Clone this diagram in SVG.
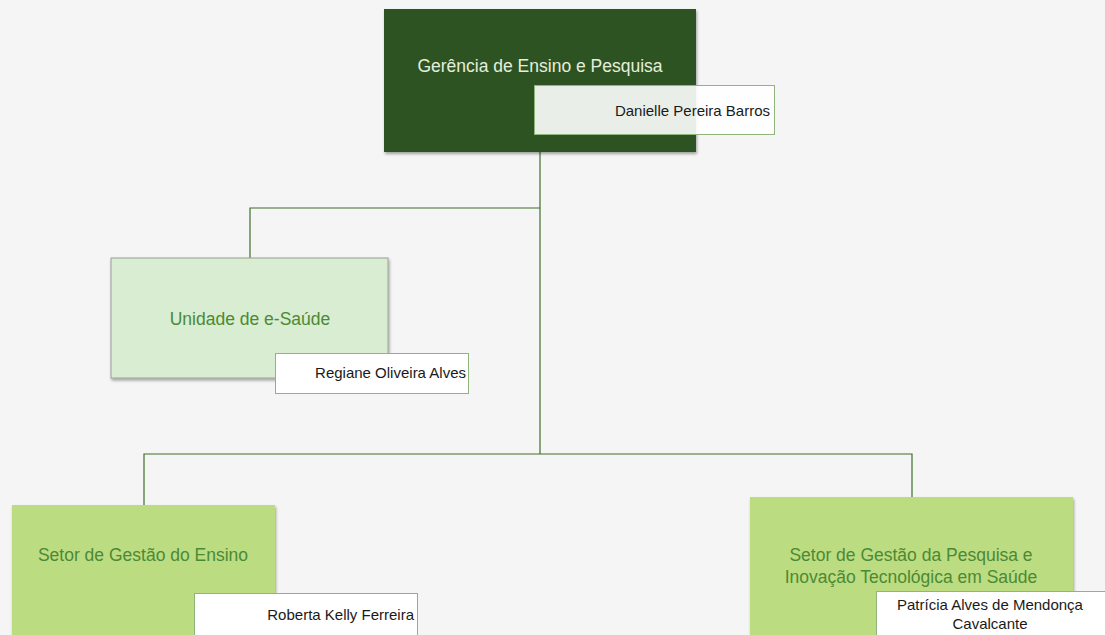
<svg xmlns="http://www.w3.org/2000/svg" width="1105" height="635" viewBox="0 0 1105 635">
<defs>
<filter id="sh" x="-10%" y="-10%" width="120%" height="125%">
<feDropShadow dx="1" dy="2" stdDeviation="1.5" flood-color="#000" flood-opacity="0.35"/>
</filter>
<style>
.title{font-family:"Liberation Sans",Arial,sans-serif;font-size:17.5px;text-anchor:middle}
.name{font-family:"Liberation Sans",Arial,sans-serif;font-size:15px;fill:#1a1a1a}
.nb{stroke:#8fb47c;stroke-width:1}
.conn{fill:none;stroke:#3f6e2a;stroke-width:1.2}
</style>
</defs>
<rect width="1105" height="635" fill="#f5f5f5"/>
<g id="connectors" class="conn">
<path d="M540 152V454"/>
<path d="M250 258V208H540"/>
<path d="M144 505V454H912V497"/>
</g>
<g id="n-gerencia">
<rect x="384" y="9" width="312" height="143" fill="#2d5220" filter="url(#sh)"/>
<text class="title" x="540" y="72" fill="#e6eedd">Gerência de Ensino e Pesquisa</text>
<rect class="nb" x="534.5" y="85.5" width="240" height="49" fill="#ffffff" fill-opacity="0.9"/>
<text class="name" x="770" y="116" text-anchor="end">Danielle Pereira Barros</text>
</g>
<g id="n-esaude">
<rect x="111" y="258" width="277" height="120" fill="#d8edd2" stroke="#9aa095" filter="url(#sh)"/>
<text class="title" x="250" y="325" fill="#4b8a34">Unidade de e-Saúde</text>
<rect class="nb" x="275.5" y="353.5" width="193" height="40" fill="#ffffff"/>
<text class="name" x="466" y="378" text-anchor="end">Regiane Oliveira Alves</text>
</g>
<g id="n-ensino">
<rect x="12" y="505" width="263" height="140" fill="#bcdc82" filter="url(#sh)"/>
<text class="title" x="143" y="561" fill="#4b8a34">Setor de Gestão do Ensino</text>
<rect class="nb" x="194.5" y="593.5" width="223" height="50" fill="#ffffff"/>
<text class="name" x="414" y="620" text-anchor="end">Roberta Kelly Ferreira</text>
</g>
<g id="n-pesquisa">
<rect x="750" y="497" width="323" height="148" fill="#bcdc82" filter="url(#sh)"/>
<text class="title" x="911" y="561" fill="#4b8a34">Setor de Gestão da Pesquisa e</text>
<text class="title" x="911" y="583" fill="#4b8a34">Inovação Tecnológica em Saúde</text>
<rect class="nb" x="876.5" y="591.5" width="235" height="50" fill="#ffffff"/>
<text class="name" x="990" y="610" text-anchor="middle">Patrícia Alves de Mendonça</text>
<text class="name" x="990" y="629" text-anchor="middle">Cavalcante</text>
</g>
</svg>
